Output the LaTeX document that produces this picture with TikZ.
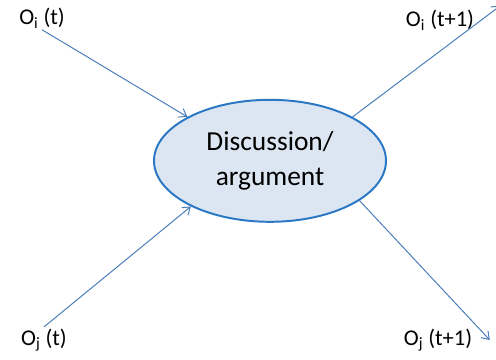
\documentclass[tikz,border=0pt]{standalone}
\usepackage{fontspec}
\setmainfont{Carlito}
\usetikzlibrary{arrows.meta,shapes.geometric}
\definecolor{Canvas}{HTML}{FFFFFF}
\definecolor{EllFill}{HTML}{DCE6F2}
\definecolor{EllLine}{HTML}{2A78C4}
\definecolor{FlowBlue}{HTML}{4A7EBB}

\begin{document}
\begin{tikzpicture}[every node/.style={text=black},
  lbl/.style={font=\fontsize{16}{19}\selectfont,inner sep=1pt},
  flow/.style={FlowBlue,line width=0.7pt,-{Straight Barb[length=5pt,width=7pt]}}]
\fill[Canvas] (0,0) rectangle (12.4,-9); \useasboundingbox (0,0) rectangle (12.4,-9);
\node[ellipse,draw=EllLine,line width=1.4pt,fill=EllFill,minimum width=5.8cm,minimum height=3.05cm,inner sep=0pt,align=center,font=\fontsize{19.5}{24.5}\selectfont] (disc) at (6.75,-4.02){Discussion/\\argument};
\node[lbl] (oit) at (1.05,-0.45){O\textsubscript{i} (t)};
\node[lbl] (oit1) at (11.0,-0.5){O\textsubscript{i} (t+1)};
\node[lbl] (ojt) at (1.1,-8.5){O\textsubscript{j} (t)};
\node[lbl] (ojt1) at (10.95,-8.5){O\textsubscript{j} (t+1)};
\coordinate (away) at (12.5,-0.15);
\draw[flow] (oit.south) -- (disc.152);
\draw[flow] (ojt.north) -- (disc.210);
\draw[flow] (disc.28) -- (away);
\draw[flow] (disc.-24) -- ([xshift=0.4cm]ojt1.east);
\end{tikzpicture}
\end{document}
